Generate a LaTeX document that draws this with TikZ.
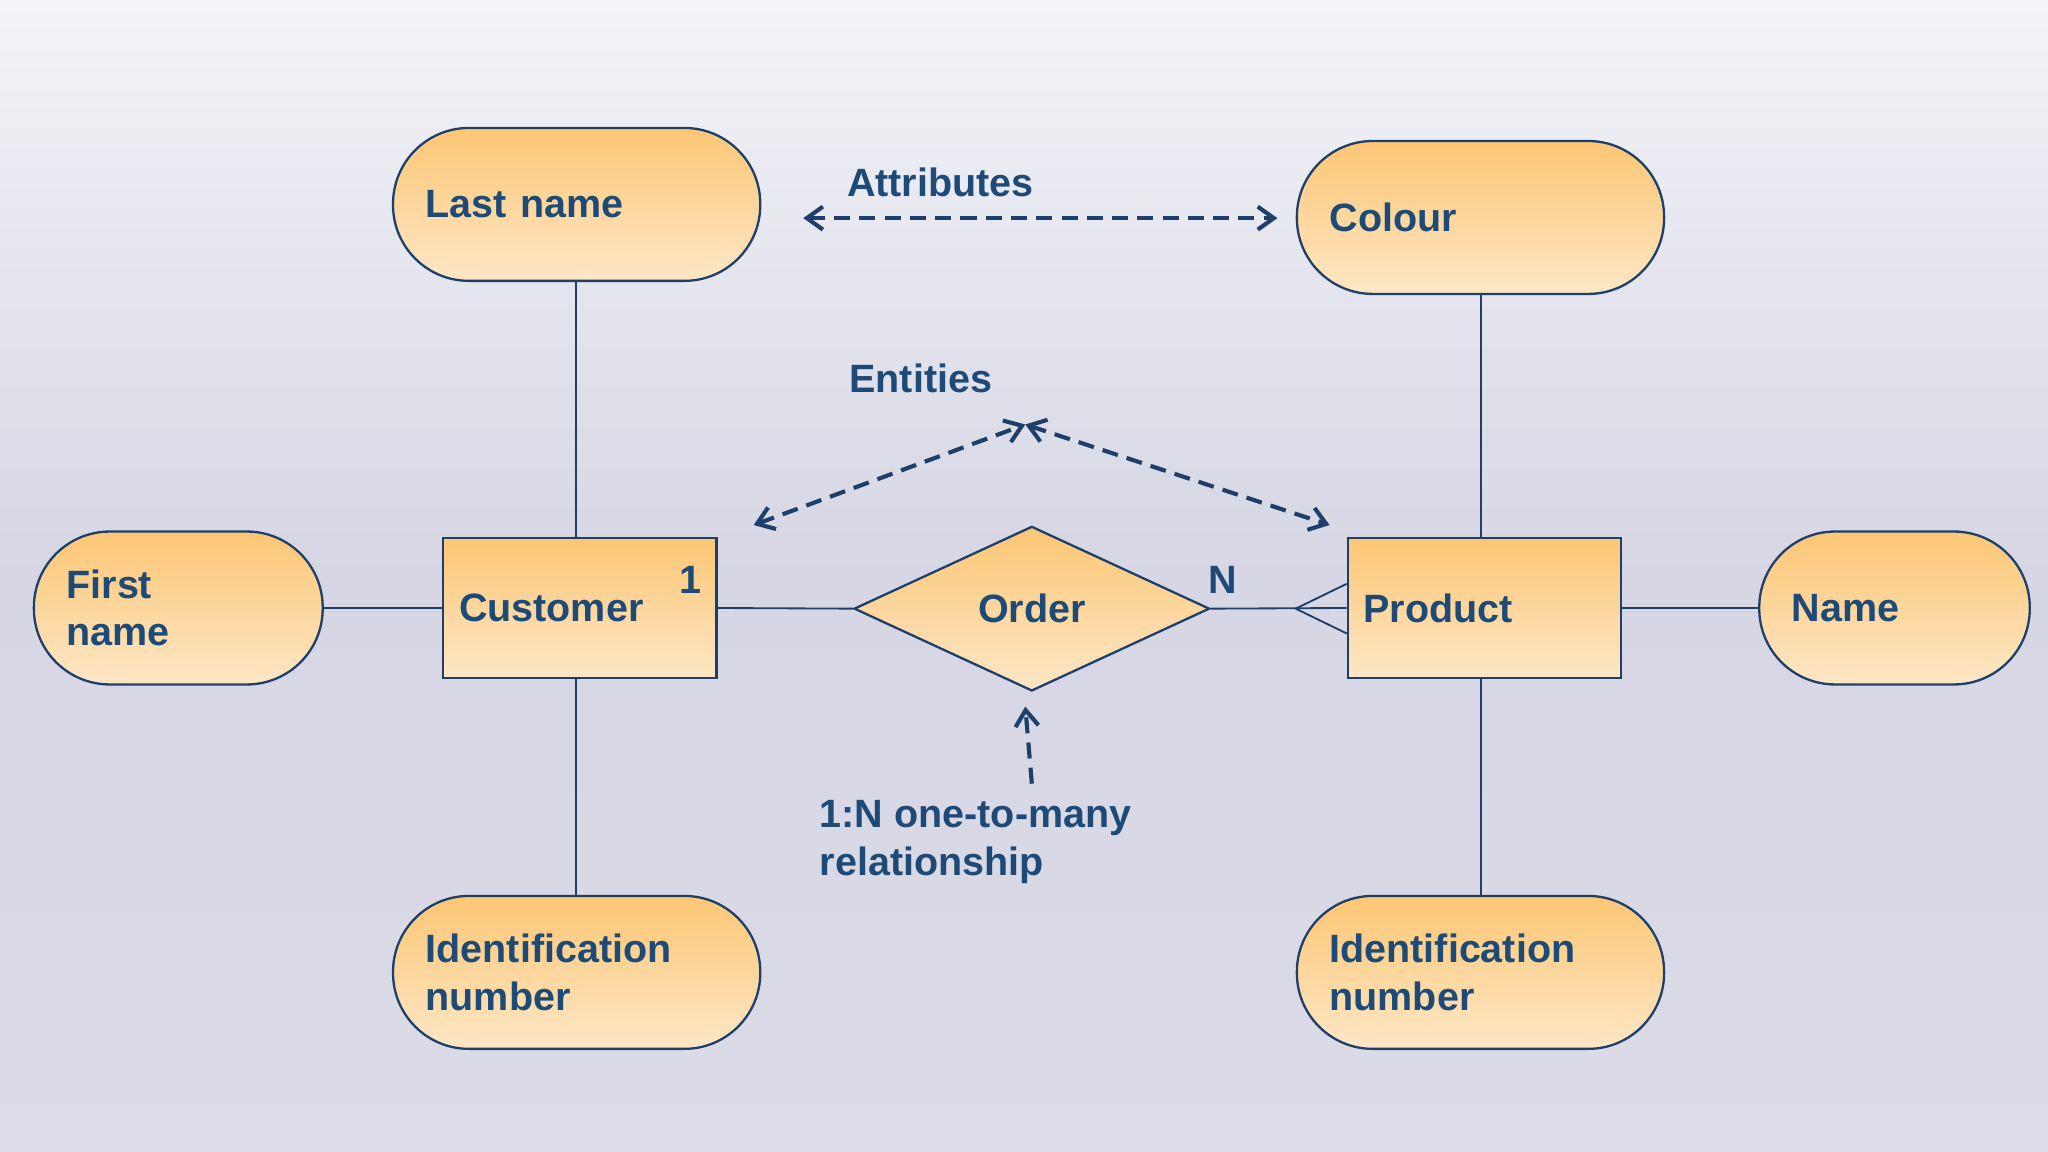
\documentclass[tikz,border=0pt]{standalone}
\usepackage{fontspec}
\setmainfont{Liberation Sans}
\usetikzlibrary{shapes.geometric,arrows.meta}
\definecolor{navy}{HTML}{1F3F6B}
\definecolor{txt}{HTML}{1E4A78}
\definecolor{otop}{HTML}{FCC674}
\definecolor{obot}{HTML}{FDE7C6}
\definecolor{bgtop}{HTML}{F3F3F8}
\definecolor{bgmid}{HTML}{D6D6E4}
\definecolor{bgbot}{HTML}{DCDCE8}
\tikzset{
 fnt/.style={font=\bfseries\fontsize{8.6}{10.4}\selectfont, text=txt},
 attr/.style={fnt, draw=navy, line width=0.5pt, rounded corners=0.58cm, top color=otop, bottom color=obot,
   minimum height=1.17cm, inner xsep=0.25cm, align=left},
 ent/.style={fnt, draw=navy, line width=0.5pt, top color=otop, bottom color=obot, minimum width=2.09cm,
   minimum height=1.07cm, inner xsep=0.12cm, align=left, text width=1.85cm},
 rel/.style={fnt, diamond, draw=navy, line width=0.5pt, top color=otop, bottom color=obot, aspect=2.16,
   minimum width=2.72cm, minimum height=1.26cm, inner sep=0pt},
 lbl/.style={fnt, align=left, inner sep=0pt},
 conn/.style={draw=navy, line width=0.4pt},
 dasharrow/.style={draw=navy, line width=0.9pt, dash pattern=on 3.5pt off 2pt, {Straight Barb[length=3.5pt,width=5pt]}-{Straight Barb[length=3.5pt,width=5pt]}},
}
\begin{document}
\begin{tikzpicture}[x=0.01cm,y=-0.01cm]
\shade[top color=bgtop, bottom color=bgbot, middle color=bgmid] (0,0) rectangle (1568,882);
\useasboundingbox (0,0) rectangle (1568,882);
\node[attr, minimum width=2.81cm, text width=2.31cm] (ln) at (441.5,156.5) {Last name};
\node[attr, minimum width=2.81cm, text width=2.31cm] (col) at (1133.5,166.5) {Colour};
\node[attr, minimum width=2.21cm, text width=1.71cm] (fn) at (136.5,465.5) {First\\name};
\node[attr, minimum width=2.07cm, text width=1.57cm] (nm) at (1450.5,465.5) {Name};
\node[attr, minimum width=2.81cm, text width=2.31cm] (idl) at (441.5,744.5) {Identification\\number};
\node[attr, minimum width=2.81cm, text width=2.31cm] (idr) at (1133.5,744.5) {Identification\\number};
\node[ent] (cu) at (444,465.5) {Customer};
\node[ent] (pr) at (1136.5,465.5) {Product};
\node[rel] (or) at (790,466) {Order\hspace{0.32cm}};
\draw[conn] (ln.south -| 441,0) -- (cu.north -| 441,0);
\draw[conn] (cu.south -| 441,0) -- (idl.north -| 441,0);
\draw[conn] (fn.east) -- (cu.west);
\draw[conn] (cu.east) -- (or.west);
\draw[conn] (or.east) -- (pr.west);
\coordinate (cf) at (992,466);
\draw[conn] (cf) -- (pr.west |- 0,447);
\draw[conn] (cf) -- (pr.west |- 0,485);
\draw[conn] (pr.north -| 1134,0) -- (col.south -| 1134,0);
\draw[conn] (pr.south -| 1134,0) -- (idr.north -| 1134,0);
\draw[conn] (pr.east) -- (nm.west);
\node[lbl] (one) at (529,444) {1};
\node[lbl] (n) at (936,444) {N};
\node[lbl] (at) at (720,140) {Attributes};
\coordinate (a1) at (615,167); \coordinate (a2) at (978,167);
\draw[dasharrow] (a1) -- (a2);
\node[lbl] (en) at (705,290) {Entities};
\coordinate (e0) at (785,325); \coordinate (e1) at (577,402); \coordinate (e2) at (1018,402);
\draw[dasharrow] (e1) -- (e0);
\draw[dasharrow] (e0) -- (e2);
\node[lbl, anchor=north west] (rl) at (627,612) {1:N one-to-many\\relationship};
\coordinate (r0) at (790,600); \coordinate (r1) at (785,541);
\draw[dasharrow, -{Straight Barb[length=3.5pt,width=5pt]}] (r0) -- (r1);
\end{tikzpicture}
\end{document}
